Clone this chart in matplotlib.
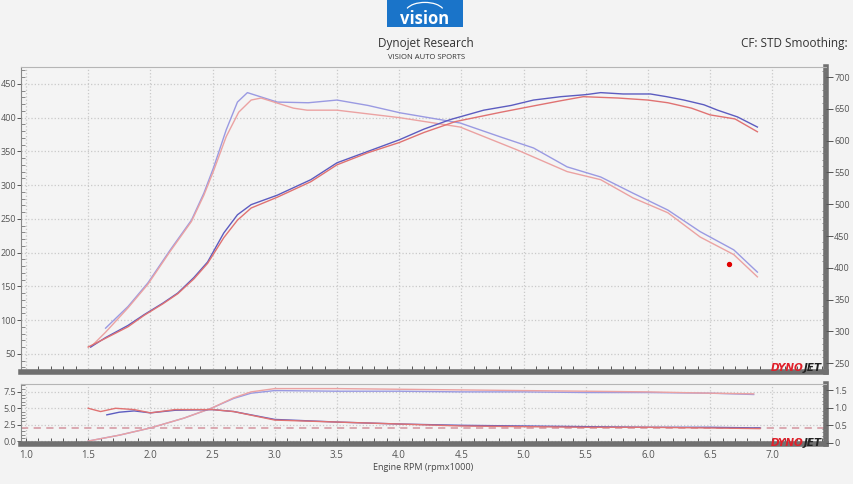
import matplotlib.pyplot as plt
from matplotlib.ticker import MultipleLocator
from matplotlib.patches import Rectangle, Arc

plt.rcParams['font.family'] = ['Open Sans', 'DejaVu Sans']

# --- data ---
hp_blue_rpm = [1.52, 1.64, 1.82, 1.95, 2.10, 2.22, 2.35, 2.46, 2.59, 2.70, 2.81, 3.02, 3.29, 3.5,
               3.75, 4.0, 4.2, 4.41, 4.68, 4.9, 5.08, 5.3, 5.5, 5.62, 5.8, 6.02, 6.15, 6.29, 6.45,
               6.56, 6.72, 6.88]
hp_blue = [60, 74, 92, 108, 125, 140, 163, 186, 229, 256, 271, 285, 308, 333, 350, 367, 383, 397,
           411, 418, 426, 431, 434, 437, 435, 435, 431, 426, 419, 411, 401, 386]
hp_red_rpm = [1.5, 1.64, 1.82, 1.95, 2.10, 2.22, 2.35, 2.46, 2.59, 2.70, 2.81, 3.02, 3.29, 3.5,
              3.75, 4.0, 4.2, 4.45, 4.82, 5.1, 5.3, 5.48, 5.76, 6.0, 6.16, 6.35, 6.5, 6.7, 6.88]
hp_red = [60, 73, 90, 107, 124, 139, 161, 184, 222, 248, 266, 282, 305, 330, 348, 363, 378, 394,
          408, 418, 425, 431, 429, 426, 422, 414, 404, 398, 379]

tq_blue_rpm = [1.64, 1.82, 1.98, 2.16, 2.33, 2.43, 2.51, 2.61, 2.70, 2.78, 3.02, 3.27, 3.5, 3.75,
               4.01, 4.33, 4.49, 4.82, 5.08, 5.35, 5.62, 5.88, 6.16, 6.42, 6.69, 6.88]
tq_blue = [88, 120, 155, 204, 248, 288, 327, 382, 423, 437, 423, 422, 426, 418, 407, 397, 392,
           371, 355, 327, 312, 288, 263, 231, 204, 171]
tq_red_rpm = [1.52, 1.64, 1.82, 1.98, 2.16, 2.33, 2.43, 2.51, 2.61, 2.71, 2.81, 2.89, 3.15, 3.26,
              3.5, 4.0, 4.49, 4.95, 5.35, 5.62, 5.88, 6.16, 6.42, 6.69, 6.88]
tq_red = [60, 82, 118, 153, 202, 246, 285, 322, 372, 408, 426, 429, 414, 411, 411, 400, 386, 352,
          320, 308, 281, 259, 223, 197, 164]

marker_rpm = [6.65]
marker_val = [183]

rise_rpm = [1.5, 1.75, 2.0, 2.27, 2.49, 2.67, 2.81, 3.0, 3.5, 4.0, 4.5, 5.0, 5.5, 6.0, 6.5, 6.85]
rise_red = [0.0, 0.9, 2.0, 3.5, 5.0, 6.6, 7.5, 8.0, 8.0, 7.9, 7.8, 7.7, 7.6, 7.5, 7.3, 7.2]
rise_blue = [0.0, 0.9, 2.0, 3.5, 5.0, 6.5, 7.3, 7.7, 7.6, 7.6, 7.5, 7.5, 7.4, 7.4, 7.3, 7.1]

low_red_rpm = [1.5, 1.6, 1.72, 1.87, 2.0, 2.2, 2.5, 2.67, 3.0, 3.5, 4.0, 4.5, 5.0, 5.5, 6.0, 6.5, 6.9]
low_red = [5.0, 4.5, 5.0, 4.8, 4.3, 4.8, 4.8, 4.5, 3.2, 2.9, 2.6, 2.3, 2.2, 2.1, 2.1, 2.0, 1.9]
low_blue_rpm = [1.65, 1.75, 1.87, 2.0, 2.2, 2.5, 2.67, 3.0, 3.5, 4.0, 4.5, 5.0, 5.5, 6.0, 6.5, 6.9]
low_blue = [4.0, 4.4, 4.6, 4.3, 4.7, 4.8, 4.5, 3.3, 2.9, 2.6, 2.4, 2.3, 2.2, 2.1, 2.1, 2.0]

ref_level = 2.0

bg = '#f3f3f3'
bar = '#707070'
tick_c = '#555555'
grid_c = '#c9c9c9'

fig = plt.figure(figsize=(8.54, 4.84), dpi=100, facecolor=bg)
ax = fig.add_axes([0.0246, 0.2314, 0.9424, 0.6302], facecolor='#f4f4f4')
ax2 = fig.add_axes([0.0246, 0.0826, 0.9424, 0.1240], facecolor='#f4f4f4', sharex=ax)


def style(a, ylo, yhi, major, minor):
    a.set_xlim(0.96, 7.43)
    a.set_ylim(ylo, yhi)
    a.xaxis.set_major_locator(MultipleLocator(0.5))
    a.xaxis.set_minor_locator(MultipleLocator(0.1))
    a.yaxis.set_major_locator(MultipleLocator(major))
    a.yaxis.set_minor_locator(MultipleLocator(minor))
    a.grid(True, which='major', color=grid_c, linestyle=':', linewidth=0.9)
    a.spines['bottom'].set_color(bar)
    a.spines['bottom'].set_linewidth(4)
    a.spines['right'].set_color(bar)
    a.spines['right'].set_linewidth(4)
    a.spines['left'].set_color('#888888')
    a.spines['left'].set_linewidth(0.8)
    a.spines['top'].set_color('#b5b5b5')
    a.spines['top'].set_linewidth(0.8)
    a.tick_params(axis='y', which='major', direction='out', length=3, width=0.7,
                  colors=tick_c, labelsize=6.5, pad=0.5)
    a.tick_params(axis='y', which='minor', direction='in', length=3, width=0.6, colors='#777777')
    a.tick_params(axis='x', which='both', direction='in', length=4, width=0.7, colors='#555555',
                  labelsize=7, pad=4)


style(ax, 23, 475, 50, 10)
style(ax2, -0.45, 8.7, 2.5, 0.5)
ax.tick_params(axis='x', labelbottom=False, length=0)
ax2.yaxis.set_major_formatter(plt.FormatStrFormatter('%.1f'))
ax2.set_xticks([1.0, 1.5, 2.0, 2.5, 3.0, 3.5, 4.0, 4.5, 5.0, 5.5, 6.0, 6.5, 7.0])
ax2.set_xlabel('Engine RPM (rpmx1000)', fontsize=6.5, color='#444444', labelpad=2)

# main curves
ax.plot(tq_blue_rpm, tq_blue, color='#9a9ae2', lw=1.0)
ax.plot(tq_red_rpm, tq_red, color='#eba2a2', lw=1.0)
ax.plot(hp_blue_rpm, hp_blue, color='#5c5cc0', lw=1.0)
ax.plot(hp_red_rpm, hp_red, color='#e07272', lw=1.0)
ax.scatter(marker_rpm, marker_val, s=8, color='#e00000', zorder=5)

# right scale of main chart
axr = ax.twinx()
axr.set_ylim(236, 716)
axr.yaxis.set_major_locator(MultipleLocator(50))
axr.yaxis.set_minor_locator(MultipleLocator(10))
axr.tick_params(axis='y', which='major', direction='out', length=5, width=0.7,
                colors=tick_c, labelsize=6.5, pad=1)
axr.tick_params(axis='y', which='minor', direction='in', length=3, width=0.6, colors='#777777')
for s in axr.spines.values():
    s.set_visible(False)

# lower chart
ax2.axhline(ref_level, color='#d9a3ab', lw=1.3, dashes=(4, 3))
ax2.plot(rise_rpm, rise_blue, color='#9a9ae2', lw=1.0)
ax2.plot(rise_rpm, rise_red, color='#eba2a2', lw=1.0)
ax2.plot(low_blue_rpm, low_blue, color='#5c5cc0', lw=1.0)
ax2.plot(low_red_rpm, low_red, color='#e07272', lw=1.0)

axr2 = ax2.twinx()
axr2.set_ylim(-0.03, 1.67)
axr2.set_yticks([0, 0.5, 1.0, 1.5])
axr2.set_yticklabels(['0', '0.5', '1.0', '1.5'])
axr2.yaxis.set_minor_locator(MultipleLocator(0.1))
axr2.tick_params(axis='y', which='major', direction='out', length=5, width=0.7,
                 colors=tick_c, labelsize=6.5, pad=1)
axr2.tick_params(axis='y', which='minor', direction='in', length=3, width=0.6, colors='#777777')
for s in axr2.spines.values():
    s.set_visible(False)

# header logo
fig.patches.append(Rectangle((0.453, 0.944), 0.089, 0.056, transform=fig.transFigure,
                             facecolor='#1a74c9', edgecolor='none'))
fig.patches.append(Arc((0.4975, 0.975), 0.045, 0.04, theta1=20, theta2=160,
                       transform=fig.transFigure, color='white', lw=0.9))
fig.text(0.4975, 0.943, 'vision', color='white', fontsize=12, fontweight='bold',
         ha='center', va='bottom')
fig.text(0.499, 0.911, 'Dynojet Research', fontsize=8.5, color='#333333', ha='center', va='center')
fig.text(0.499, 0.882, 'VISION AUTO SPORTS', fontsize=5.5, color='#333333', ha='center', va='center')
fig.text(0.993, 0.911, 'CF: STD Smoothing:', fontsize=8.5, color='#333333', ha='right', va='center')

# dynojet marks
for y in (0.240, 0.085):
    fig.text(0.941, y, 'DYNO', color='#e0202a', fontsize=7.5, fontweight='heavy',
             fontstyle='italic', family='DejaVu Sans', ha='right', va='center')
    fig.text(0.941, y, 'JET', color='#222222', fontsize=7.5, fontweight='heavy',
             fontstyle='italic', family='DejaVu Sans', ha='left', va='center')

fig.savefig('out.png', dpi=100, facecolor=bg)
